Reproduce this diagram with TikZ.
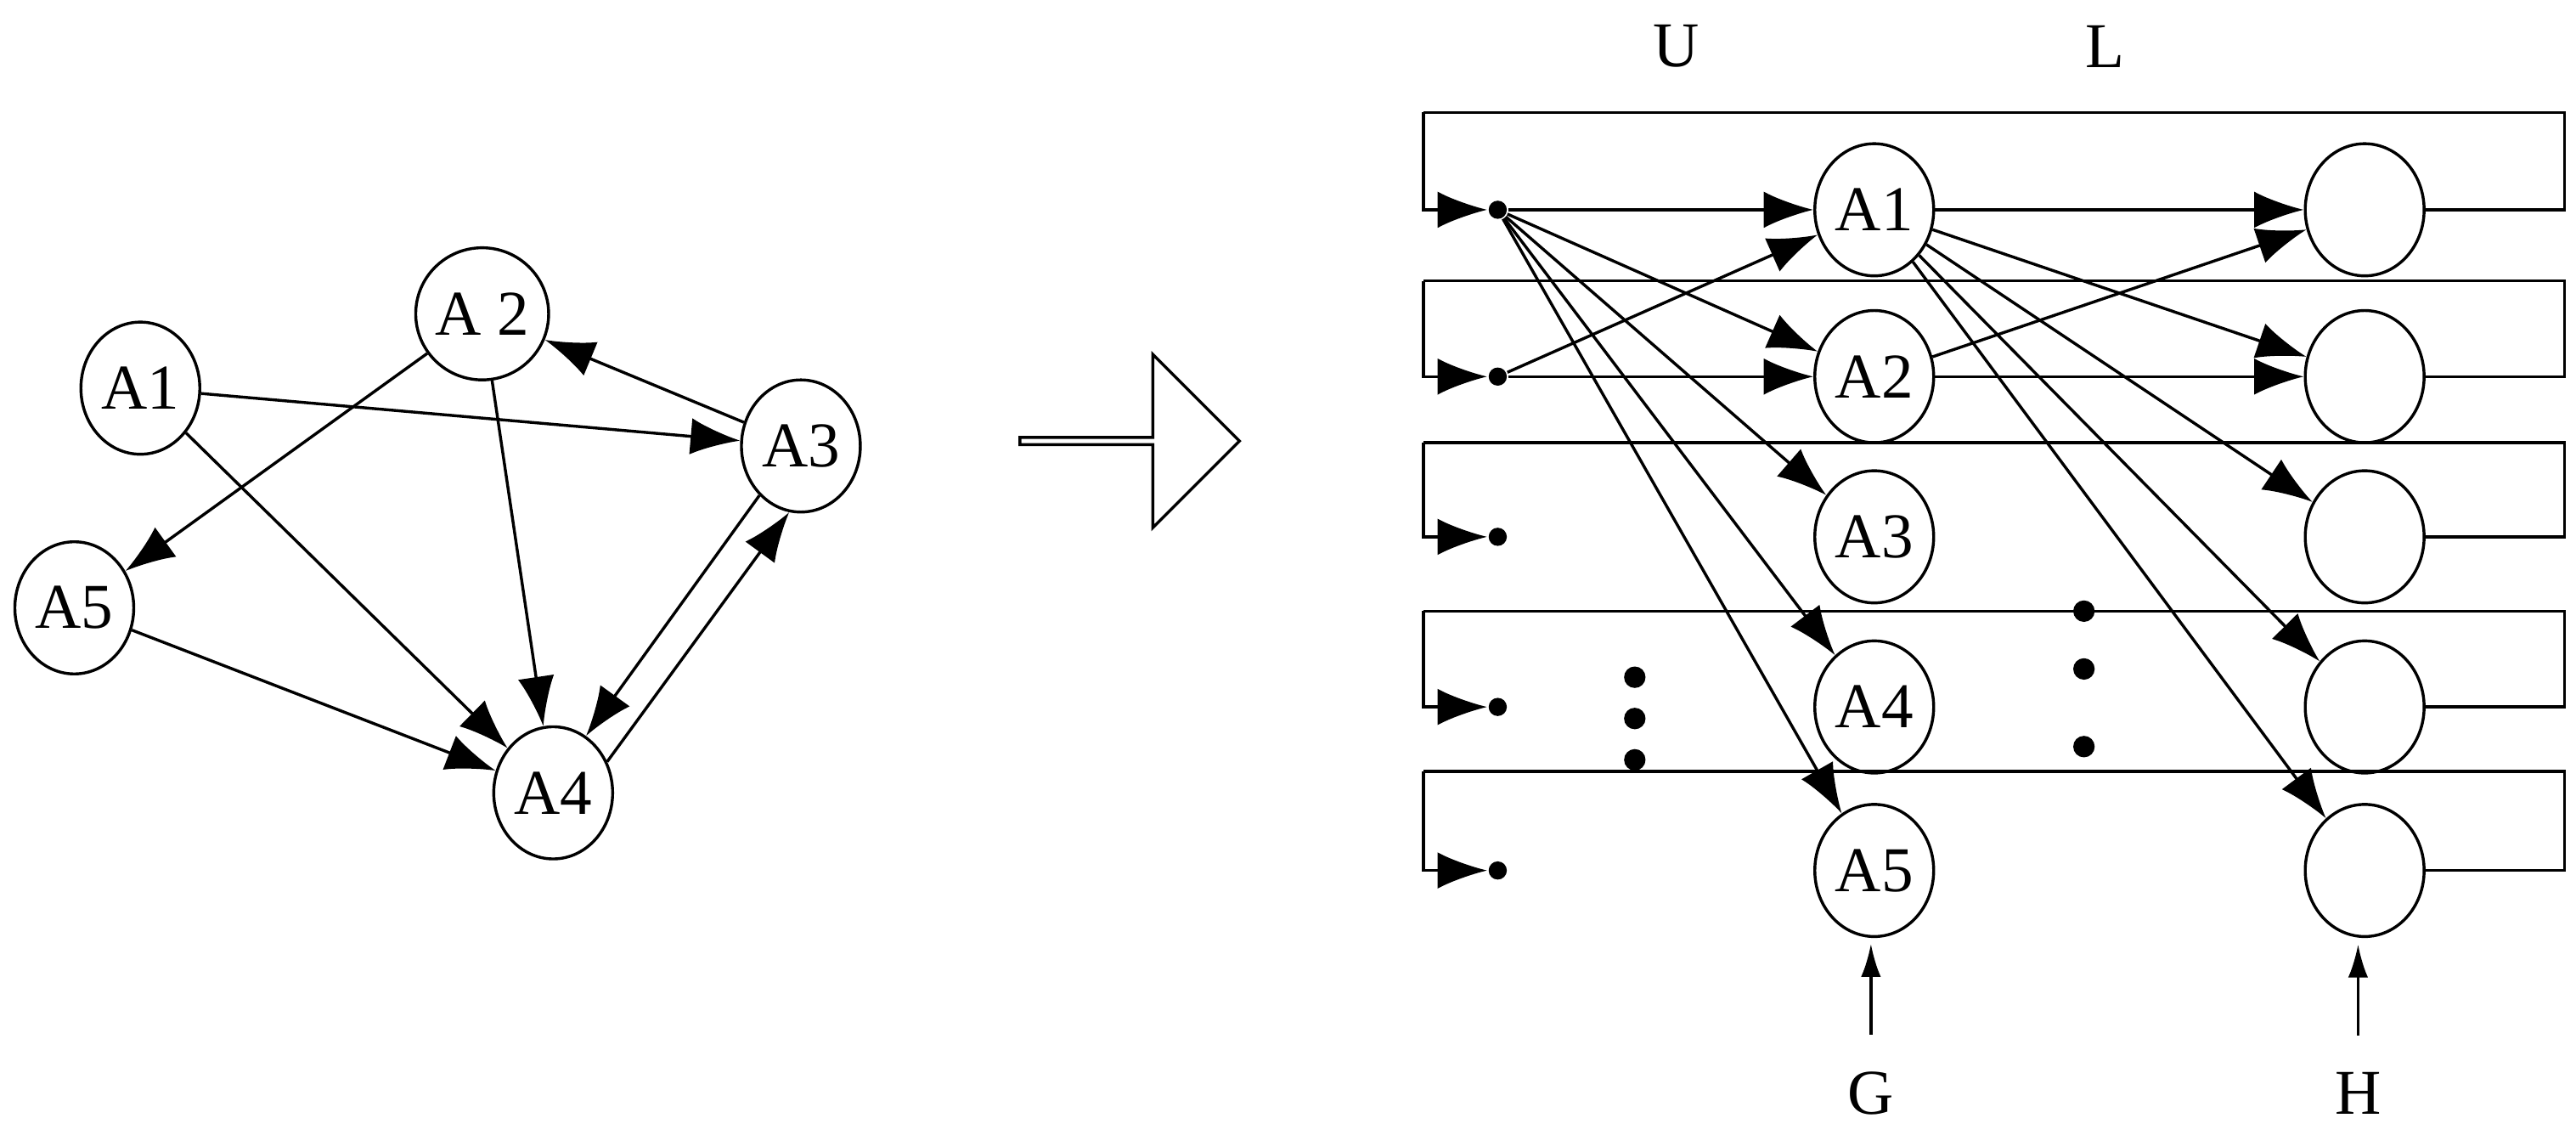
\documentclass[tikz,border=0pt]{standalone}
\usepackage{fontspec}
\setmainfont{Liberation Serif}
\usetikzlibrary{arrows.meta,shapes.geometric,shapes.arrows}
\tikzset{state/.style={draw,ellipse,minimum width=0.72cm,minimum height=0.8cm,inner sep=0pt,
                       font=\fontsize{11}{13}\selectfont}}
\tikzset{pt/.style={circle,fill,inner sep=0pt,minimum size=0.11cm}}
\begin{document}
\begin{tikzpicture}[>={Latex[length=0.3cm,width=0.22cm]}, line width=0.5pt, x=1cm, y=-1cm,
      lab/.style={font=\fontsize{11}{13}\selectfont}
    ]
    \useasboundingbox (0,0) rectangle (15.60,6.87);
    % left graph
    \node[state] (a1) at (0.85,2.35) {A1};
    \node[state] (a2) at (2.92,1.90) {A 2};
    \node[state] (a3) at (4.85,2.70) {A3};
    \node[state] (a5) at (0.45,3.68) {A5};
    \node[state] (a4) at (3.35,4.80) {A4};
    \draw[->] (a1) -- (a3);
    \draw[->] (a1) -- (a4);
    \draw[->] (a2) -- (a5);
    \draw[->] (a2) -- (a4);
    \draw[->] (a3) -- (a2);
    \draw[->] (a3.230) -- (a4.60);
    \draw[->] (a4.30) -- (a3.260);
    \draw[->] (a5) -- (a4);

    % big hollow arrow
    \node[draw,single arrow,minimum height=1.33cm,minimum width=1.05cm,
          single arrow head extend=0.2cm,inner sep=0pt] (big) at (6.83,2.67) {};

    % right network
    \node[lab] (u) at (10.15,0.28) {U};
    \node[lab] (l) at (12.75,0.28) {L};
    \foreach \r/\t [count=\i from 1] in {1.27/0.68,2.28/1.70,3.25/2.68,4.28/3.70,5.27/4.67}{
      \node[pt] (d\i) at (9.07,\r) {};
      \node[state] (g\i) at (11.35,\r) {A\i};
      \node[state] (h\i) at (14.32,\r) {};
      \coordinate (c\i) at (15.53,\r);
      \coordinate (t\i) at (8.62,\t);
      \draw (h\i.east) -- (c\i) |- (t\i);
      \draw[->] (t\i) |- (d\i.west);
    }
    \foreach \i in {1,...,5}{
      \draw[->] (d1) -- (g\i);
      \draw[->] (g1) -- (h\i);
    }
    \draw[->] (d2) -- (g1);
    \draw[->] (d2) -- (g2);
    \draw[->] (g2) -- (h1);
    \draw[->] (g2) -- (h2);

    % ellipsis dots
    \foreach \y [count=\k] in {4.10,4.35,4.60}
      \node[pt,minimum size=0.13cm] (e\k) at (9.90,\y) {};
    \foreach \y [count=\k] in {3.70,4.05,4.52}
      \node[pt,minimum size=0.13cm] (f\k) at (12.62,\y) {};

    % bottom labels
    \node[lab] (g) at (11.33,6.62) {G};
    \node[lab] (h) at (14.28,6.62) {H};
    \draw[->,>={Latex[length=0.2cm,width=0.12cm]}] (g.north) ++(0,-0.1) coordinate (gs) -- ++(0,-0.55) coordinate (ge);
    \draw[->,>={Latex[length=0.2cm,width=0.12cm]}] (h.north) ++(0,-0.1) coordinate (hs) -- ++(0,-0.55) coordinate (he);
\end{tikzpicture}
\end{document}
